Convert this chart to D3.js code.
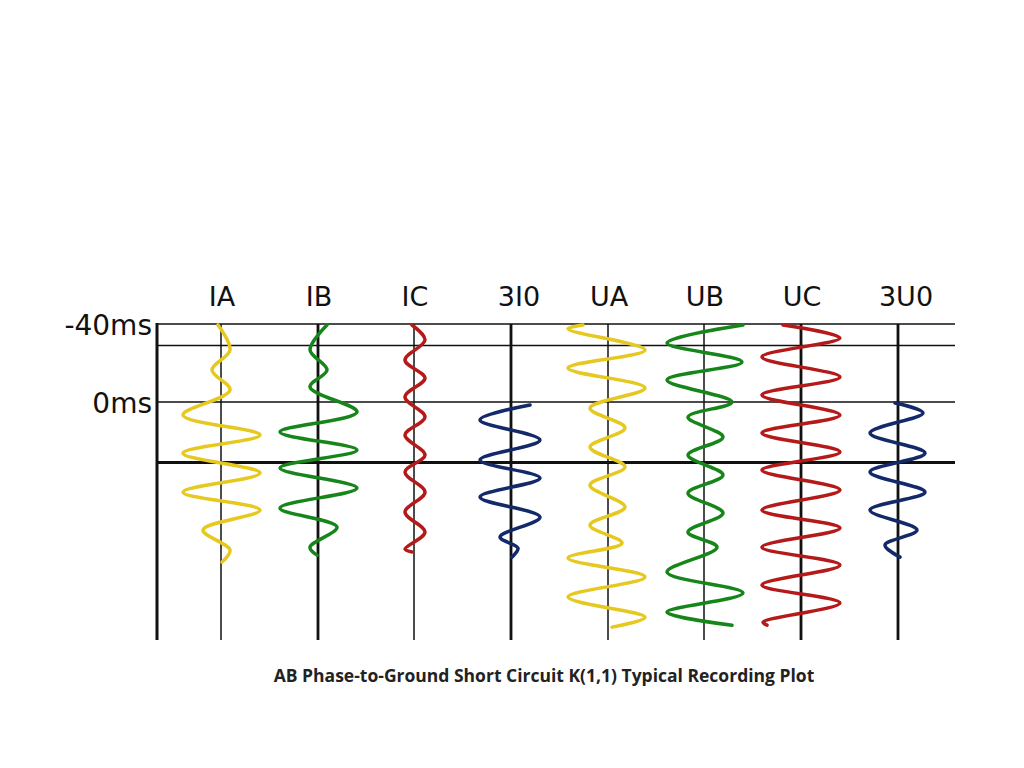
<!DOCTYPE html>
<html>
<head>
<meta charset="utf-8">
<title>K(1,1) recording</title>
<script src="https://d3js.org/d3.v7.min.js"></script>
<style>body{margin:0;background:#fff;}</style>
</head>
<body>
<script>
// channels across the top
var channels = ["IA", "IB", "IC", "3I0", "UA", "UB", "UC", "3U0"];
var channelColors = ["#e6c81f", "#17861a", "#b51a1a", "#13296a", "#e6c81f", "#17861a", "#b51a1a", "#13296a"];
var heavyAxis = [false, true, false, true, false, false, true, true];

// time gridlines (ms)
var gridTimes = [-40, -29, 0, 31];
var timeLabels = [{t: -40, text: "-40ms"}, {t: 0, text: "0ms"}];

// extrema of each trace: time (ms) and swing (px-units, + = right)
var iaT = [-39.5, -26.7, -16.4, -6.2, 6.7, 16.9, 26.2, 36.4, 46.2, 55.4, 65.6, 75.9, 82];
var iaV = [-3, 9, -9, 9, -38, 39, -38, 39, -38, 39, -18, 9, 1];
var ibT = [-39.5, -26.7, -16.4, -7.7, 5.1, 15.4, 24.6, 33.8, 44.1, 54.4, 64.1, 74.4, 78.5];
var ibV = [9, -8, 9, -8, 39, -38, 39, -38, 39, -38, 19, -8, -1];
var icT = [-39.5, -31.8, -21.5, -12.3, -2.6, 7.7, 16.9, 27.2, 35.9, 46.2, 56.4, 66.7, 75.4, 76.9];
var icV = [-2, 11, -9, 11, -9, 11, -9, 11, -9, 11, -9, 11, -9, -2];
var i0T = [1.5, 9.2, 19.5, 29.7, 39, 48.7, 59, 69.2, 74.9, 79.5];
var i0V = [19, -31, 29, -31, 29, -31, 29, -11, 7, 1];
var uaT = [-39.5, -37.5, -26.7, -17.4, -7.2, 3.1, 13.3, 23.1, 33.3, 42.6, 53.8, 63.1, 72.3, 80, 89.7, 100, 110.3, 115.4];
var uaV = [-25, -40, 37, -40, 37, -18, 17, -18, 17, -18, 17, -18, 14, -40, 37, -40, 37, 4];
var ubT = [-39.5, -30.3, -20.5, -11.3, 0, 7.7, 17.9, 27.2, 37.4, 46.7, 56.9, 66.7, 74.4, 87.2, 97.9, 107.7, 114.4];
var ubV = [39, -37, 38, -37, 28, -16, 19, -16, 19, -16, 19, -16, 13, -37, 39, -37, 28];
var ucT = [-39.5, -32.8, -23.1, -12.8, -3.6, 6.7, 15.9, 25.6, 34.9, 45.1, 55.4, 64.6, 74.4, 83.6, 93.8, 103, 112.8, 114.4];
var ucV = [-18, 39, -39, 39, -39, 39, -39, 39, -39, 39, -39, 39, -39, 39, -39, 39, -38, -34];
var u0T = [0.5, 5.6, 15.9, 26.2, 35.9, 46.2, 55.4, 65.6, 73.3, 79.5];
var u0V = [-3, 25, -28, 27, -28, 27, -28, 19, -13, 2];

var traceT = [iaT, ibT, icT, i0T, uaT, ubT, ucT, u0T];
var traceV = [iaV, ibV, icV, i0V, uaV, ubV, ucV, u0V];

var title = "AB Phase-to-Ground Short Circuit K(1,1) Typical Recording Plot";

var W = 1024, H = 768;
var svg = d3.select("body").append("svg").attr("width", W).attr("height", H);

var y = d3.scaleLinear().domain([-40, 122]).range([324, 640]);
var axisX = {IA: 221, IB: 318, IC: 414, "3I0": 511, UA: 608, UB: 704, UC: 801, "3U0": 898};
var left = 157, right = 955;

// horizontal grid
svg.selectAll("line.grid").data(gridTimes).enter().append("line")
    .attr("x1", left).attr("x2", right)
    .attr("y1", function(d) { return y(d); }).attr("y2", function(d) { return y(d); })
    .attr("stroke", "#111").attr("stroke-width", function(d, i) { return i == 3 ? 2.8 : 1.6; });

// left border
svg.append("line").attr("x1", left).attr("x2", left).attr("y1", y(-40) - 1).attr("y2", y(122))
    .attr("stroke", "#111").attr("stroke-width", 3);

// channel axes
svg.selectAll("line.ch").data(channels).enter().append("line")
    .attr("x1", function(d) { return axisX[d]; }).attr("x2", function(d) { return axisX[d]; })
    .attr("y1", y(-40)).attr("y2", y(122))
    .attr("stroke", "#111").attr("stroke-width", function(d, i) { return heavyAxis[i] ? 2.8 : 1.5; });

// labels
svg.selectAll("text.ch").data(channels).enter().append("text")
    .attr("x", function(d) { return axisX[d] + (d.length > 2 ? 8 : 1); }).attr("y", 306)
    .attr("text-anchor", "middle").attr("font-family", "DejaVu Sans, sans-serif")
    .attr("font-size", 27).attr("fill", "#111").text(function(d) { return d; });

svg.selectAll("text.t").data(timeLabels).enter().append("text")
    .attr("x", 152).attr("y", function(d) { return y(d.t) + 11; })
    .attr("text-anchor", "end").attr("font-family", "DejaVu Sans, sans-serif")
    .attr("font-size", 28).attr("fill", "#111").text(function(d) { return d.text; });

// traces
var line = d3.line().curve(d3.curveCatmullRom.alpha(0.5));
channels.forEach(function(c, i) {
    var x = d3.scaleLinear().domain([-50, 50]).range([axisX[c] - 50, axisX[c] + 50]);
    var pts = traceT[i].map(function(t, j) { return [x(traceV[i][j]), y(t)]; });
    svg.append("path").attr("d", line(pts)).attr("fill", "none")
        .attr("stroke", channelColors[i]).attr("stroke-width", 3.5)
        .attr("stroke-linecap", "round");
});

svg.append("text").attr("x", 544).attr("y", 682).attr("text-anchor", "middle")
    .attr("font-family", "Open Sans, sans-serif").attr("font-weight", "bold")
    .attr("font-size", 17.5).attr("fill", "#222").text(title);
</script>
</body>
</html>
